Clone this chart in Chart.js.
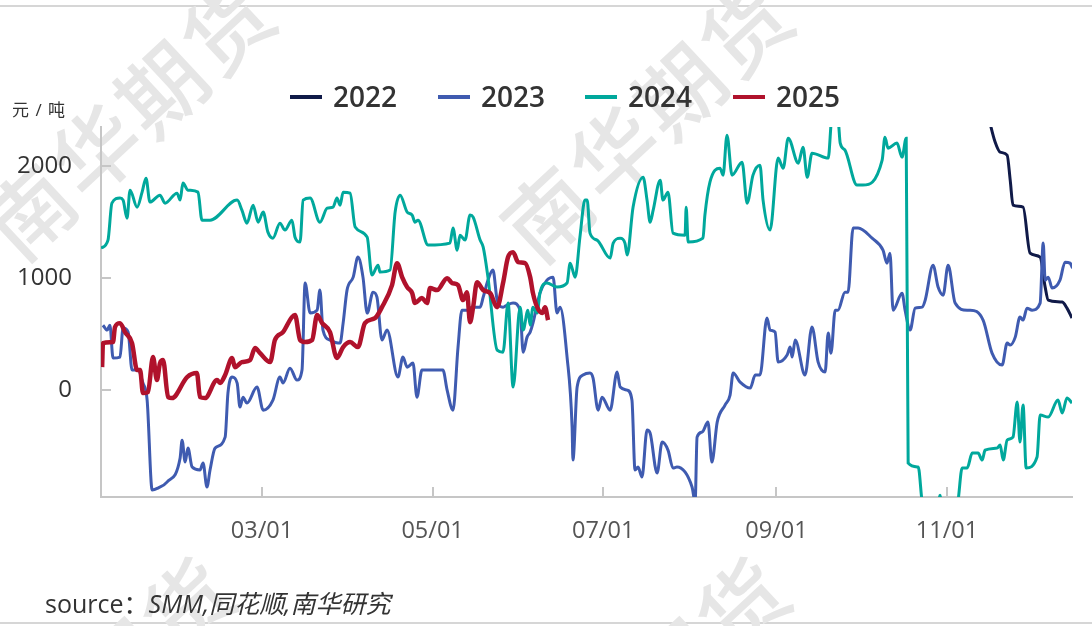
<!DOCTYPE html>
<html>
<head>
<meta charset="utf-8">
<script src="https://cdn.jsdelivr.net/npm/chart.js@4.4.1/dist/chart.umd.min.js"></script>
<style>
  html, body { margin: 0; padding: 0; background: #fff; }
  body { width: 1092px; height: 626px; position: relative; overflow: hidden;
         font-family: 'Open Sans', 'Noto Sans CJK SC', sans-serif; }
  #frameTop { position: absolute; left: 0; top: 5px; width: 1092px; height: 2px; background: #d6d6d6; }
  #frameBottom { position: absolute; left: 0; top: 622px; width: 1092px; height: 2px; background: #d6d6d6; }
  #box { position: absolute; left: 0; top: 0; width: 1092px; height: 626px; }
  #legend { position: absolute; top: 78px; left: 0; }
  .item { position: absolute; top: 0; white-space: nowrap; height: 36px; }
  .item i { position: absolute; left: 0; top: 17px; width: 32px; height: 4px; }
  .item span { position: absolute; left: 43px; top: 0; font-size: 28px; font-weight: 600; color: #333; line-height: 36px; }
  #unit { position: absolute; left: 12px; top: 96px; font-size: 17px; color: #333; letter-spacing: 1px; }
  #source { position: absolute; left: 45px; top: 584px; font-size: 25px; color: #333; }
  #source em { font-style: italic; }
</style>
</head>
<body>
<div id="frameTop"></div>
<div id="frameBottom"></div>
<div id="box"><canvas id="chart"></canvas></div>
<div id="legend"></div>
<div id="unit">元 / 吨</div>
<div id="source">source：<em>SMM,同花顺,南华研究</em></div>
<script>
// x = day of year (03/01 = 60), y = 元/吨
const seriesNames = ['2022', '2023', '2024', '2025'];
const seriesColors = ['#101a48', '#3f5bb0', '#00a89c', '#b0122c'];
const xTickDays = [60, 121, 182, 244, 305];
const xTickLabels = ['03/01', '05/01', '07/01', '09/01', '11/01'];
const yTicks = [0, 1000, 2000];

const s2022 = [[320,2420],[322.2,2215],[324,2125],[326.5,2099],[327.6,1875],[328.6,1652],[332.2,1634],[334.7,1223],[338.3,1188],[340.1,920],[341.2,804],[346.2,786],[347.9,732],[349.7,643]];

const s2023 = [[3.1,580],[4.6,536],[5.6,580],[6.7,286],[9.2,295],[10.3,554],[12.1,518],[13.5,179],[15.6,179],[17.4,63],
  [18.9,-89],[20.7,-893],[22.8,-875],[26.0,-822],[30.7,-607],[31.4,-447],[32.5,-643],[33.5,-518],[35.0,-688],[37.8,-714],
  [38.9,-652],[40.3,-866],[41.4,-714],[43.2,-518],[46.8,-420],[47.8,-27],[49.3,116],[51.1,63],[52.1,-152],[53.2,-63],
  [54.6,-116],[58.2,27],[60.4,-179],[63.9,-89],[66.4,116],[67.5,63],[70.0,196],[72.5,89],[74.3,179],[75.4,956],
  [77.2,688],[79.7,714],[80.7,893],[81.8,536],[84.3,447],[87.9,420],[89.0,598],[90.4,893],[92.6,1009],[94.3,1188],
  [96.1,1009],[97.6,688],[99.7,875],[101.1,830],[102.9,447],[104.7,536],[108.6,116],[110.4,295],[111.9,205],[114.0,241],
  [115.4,-63],[117.2,179],[124.7,179],[126.2,0],[128.3,-179],[130.1,384],[131.5,714],[133.3,714],[135.1,741],[138.0,741],
  [139.1,830],[140.8,982],[142.6,1072],[144.1,804],[146.2,741],[147.6,759],[149.8,777],[152.3,714],[153.4,339],[154.8,473],
  [155.9,518],[156.9,598],[159.4,866],[161.9,982],[164.1,1009],[165.5,688],[166.6,741],[169.1,295],[170.9,-330],[171.2,-625],
  [172.7,27],[174.8,134],[177.3,152],[178.4,107],[180.2,-179],[181.6,-63],[184.5,-179],[187.0,161],[188.1,27],[190.6,0],
  [192.3,-89],[193.4,-714],[194.5,-688],[195.9,-777],[197.7,-357],[198.8,-384],[201.3,-741],[203.1,-464],[205.2,-536],[207.0,-696],
  [208.4,-688],[213.8,-866],[214.9,-1000],[215.6,-420],[217.4,-375],[219.5,-286],[220.9,-643],[222.8,-286],[225.6,-134],[227.4,-45],
  [228.5,152],[231.0,71],[234.6,18],[236.4,134],[238.1,134],[240.6,643],[241.7,536],[243.5,518],[244.6,250],[247.8,313],
  [248.9,384],[249.6,295],[250.7,447],[254.2,134],[256.7,563],[258.9,250],[261.4,161],[262.5,509],[263.5,330],[265.0,714],
  [266.0,714],[268.5,875],[269.6,875],[271.4,1447],[273.2,1447],[278.2,1357],[282.1,1250],[283.5,1134],[284.6,1223],[285.7,714],
  [288.9,866],[290.0,714],[291.8,536],[293.6,732],[296.1,741],[297.2,804],[300.0,1116],[301.8,920],[303.6,848],[305.4,1116],
  [307.9,777],[312.2,714],[313.3,714],[317.9,625],[321.1,330],[324.7,223],[326.5,420],[327.6,402],[329.4,473],[331.1,652],
  [332.2,625],[333.6,732],[335.4,714],[338.3,777],[339.4,1313],[340.1,982],[341.2,1009],[342.6,911],[345.4,982],[347.2,1143],
  [349.0,1134],[349.9,1089]];

const s2024 = [[2.4,1268],[4.9,1340],[6.3,1670],[9.2,1715],[10.3,1697],[11.7,1536],[12.8,1786],[15.3,1634],[17.1,1768],[18.5,1893],
  [19.9,1679],[23.5,1741],[25.3,1670],[29.6,1759],[30.7,1697],[31.7,1849],[33.5,1786],[37.1,1768],[38.5,1518],[41.4,1518],
  [51.1,1697],[52.8,1607],[54.6,1491],[56.8,1652],[58.6,1500],[60.4,1590],[62.1,1411],[63.9,1357],[66.4,1491],[68.2,1429],
  [70.7,1518],[71.8,1366],[73.6,1322],[74.7,1697],[77.2,1715],[80.7,1500],[83.3,1625],[85.4,1634],[86.8,1715],[87.9,1652],
  [89.0,1768],[91.5,1759],[93.3,1456],[97.6,1366],[99.3,1027],[101.5,1116],[102.2,1054],[105.8,1072],[107.6,1590],[109.4,1741],
  [111.9,1590],[113.7,1563],[114.7,1500],[115.8,1518],[119.4,1295],[127.2,1313],[128.3,1447],[129.8,1250],[130.8,1384],[132.6,1340],
  [134.4,1563],[135.5,1545],[138.0,1340],[139.1,1277],[140.8,1009],[144.1,357],[146.2,339],[148.0,777],[149.8,27],[152.3,741],
  [153.4,536],[155.1,714],[155.9,580],[156.9,741],[158.4,688],[159.4,866],[161.9,956],[165.5,920],[169.1,956],[170.2,1134],
  [172.0,1009],[173.7,1366],[175.5,1697],[176.3,1697],[177.3,1402],[179.8,1340],[184.5,1179],[185.6,1313],[188.1,1357],[189.8,1313],
  [190.6,1206],[192.7,1634],[196.3,1902],[197.7,1697],[198.8,1500],[199.9,1607],[202.4,1875],[203.4,1697],[205.2,1768],[207.0,1402],
  [211.3,1384],[211.7,1634],[212.4,1322],[217.7,1357],[218.4,1563],[220.2,1857],[223.8,1982],[224.9,1920],[226.3,2277],[228.1,1920],
  [231.7,2036],[233.5,1670],[235.6,1920],[238.1,2009],[239.2,1697],[241.7,1429],[244.6,2072],[246.4,1982],[248.2,2250],[251.8,2027],
  [253.5,2170],[255.0,1902],[256.7,2116],[262.5,2072],[263.9,2450],[266.0,2420],[266.8,2206],[268.5,2143],[272.8,1831],[274.9,1831],
  [281.8,2054],[282.8,2259],[283.9,2161],[287.1,2206],[288.9,2081],[290.4,2250],[291.1,-652],[294.7,-688],[296.1,-1000],[298,-1150],
  [301.5,-1100],[302.5,-940],[303.5,-1150],[307.9,-1150],[309.0,-980],[310.4,-696],[312.2,-696],[314.0,-563],[316.1,-563],[317.6,-625],
  [318.6,-536],[322.9,-518],[324.0,-491],[325.1,-625],[326.5,-447],[328.6,-420],[330.1,-107],[331.1,-464],[332.2,-134],[333.3,-696],
  [337.2,-598],[338.3,-223],[341.2,-241],[344.7,-89],[346.2,-205],[347.9,-71],[349.7,-116]];

const s2025 = [[2.8,205],[3.1,420],[6.7,429],[7.4,563],[9.2,598],[11.0,518],[13.5,420],[15.3,179],[16.4,179],[17.4,-27],
  [19.2,-18],[21.0,295],[22.4,89],[23.5,241],[24.6,268],[26.4,-63],[27.8,-71],[33.2,116],[36.7,152],[37.8,-63],
  [39.6,-71],[43.9,89],[45.0,63],[46.8,134],[49.3,286],[50.3,205],[52.8,250],[55.7,268],[57.5,375],[59.3,330],
  [62.9,250],[64.6,447],[67.5,518],[70.7,652],[71.8,670],[73.6,447],[75.4,429],[77.9,447],[79.7,670],[81.5,598],
  [84.3,518],[86.8,286],[89.0,384],[91.5,429],[94.3,384],[96.8,598],[100.4,643],[102.9,741],[106.5,938],[108.3,1134],
  [110.1,1009],[111.9,920],[113.7,866],[114.7,777],[117.2,822],[119.0,777],[120.1,911],[122.6,893],[126.2,1000],[128.0,956],
  [130.1,938],[131.9,804],[133.3,875],[134.4,607],[135.5,741],[136.9,964],[139.1,893],[141.6,866],[144.1,741],[146.2,956],
  [148.0,1188],[149.8,1232],[151.6,1143],[154.1,1134],[155.9,1009],[156.9,866],[158.4,741],[160.2,688],[161.2,741],[162.3,625]];

const seriesData = [s2022, s2023, s2024, s2025];
const lineWidths = [3, 3, 3, 4.5];
const axisColor = '#c6c6c6';

// legend in html
const legendEl = document.getElementById('legend');
seriesNames.forEach((name, i) => {
  const d = document.createElement('div');
  d.className = 'item';
  d.style.left = Math.round(290 + i * 147.7) + 'px';
  d.innerHTML = '<i style="background:' + seriesColors[i] + '"></i><span>' + name + '</span>';
  legendEl.appendChild(d);
});

// faint diagonal watermark behind everything
const watermark = {
  id: 'watermark',
  beforeDraw(chart) {
    const ctx = chart.ctx;
    const starts = [[30, 212], [548, 214], [-10, 790], [545, 790]];
    const chars = ['南', '华', '期', '货'];
    const ang = -43 * Math.PI / 180;
    const step = 90;
    ctx.save();
    ctx.fillStyle = '#e6e6e6';
    ctx.font = "500 86px 'Noto Sans CJK SC'";
    ctx.textAlign = 'center';
    ctx.textBaseline = 'middle';
    starts.forEach(([sx, sy]) => {
      chars.forEach((c, k) => {
        ctx.save();
        ctx.translate(sx + k * step * Math.cos(ang), sy + k * step * Math.sin(ang));
        ctx.rotate(ang);
        ctx.fillText(c, 0, 0);
        ctx.restore();
      });
    });
    ctx.restore();
  }
};

// small tick marks drawn inside the plot, like the original
const innerTicks = {
  id: 'innerTicks',
  beforeDatasetsDraw(chart) {
    const { ctx, chartArea, scales: { x, y } } = chart;
    ctx.save();
    ctx.strokeStyle = axisColor;
    ctx.lineWidth = 2;
    ctx.beginPath();
    xTickDays.forEach(d => {
      const px = Math.round(x.getPixelForValue(d));
      ctx.moveTo(px, chartArea.bottom);
      ctx.lineTo(px, chartArea.bottom - 10);
    });
    yTicks.forEach(v => {
      const py = Math.round(y.getPixelForValue(v));
      ctx.moveTo(chartArea.left, py);
      ctx.lineTo(chartArea.left + 10, py);
    });
    ctx.stroke();
    ctx.restore();
  }
};

new Chart(document.getElementById('chart'), {
  type: 'line',
  data: {
    datasets: seriesNames.map((name, i) => ({
      label: name,
      data: seriesData[i].map(p => ({ x: p[0], y: p[1] })),
      borderColor: seriesColors[i],
      backgroundColor: seriesColors[i],
      borderWidth: lineWidths[i],
      pointRadius: 0,
      tension: 0.3,
      cubicInterpolationMode: 'monotone',
      order: 3 - i
    }))
  },
  options: {
    responsive: true,
    maintainAspectRatio: false,
    animation: false,
    layout: { padding: { top: 127, right: 20, left: 0, bottom: 79 } },
    plugins: {
      legend: { display: false },
      tooltip: { enabled: false }
    },
    scales: {
      x: {
        type: 'linear',
        min: 2.4,
        max: 349.7,
        afterBuildTicks: (scale) => { scale.ticks = xTickDays.map(v => ({ value: v })); },
        afterFit: (scale) => { scale.height = 50; },
        grid: { display: false, drawTicks: false },
        border: { display: true, color: axisColor, width: 2 },
        ticks: {
          autoSkip: false,
          maxRotation: 0,
          padding: 20,
          color: '#555',
          font: { family: "'Open Sans', sans-serif", size: 23.5 },
          callback: (value, index) => xTickLabels[index]
        }
      },
      y: {
        min: -955,
        max: 2350,
        afterBuildTicks: (scale) => { scale.ticks = yTicks.map(v => ({ value: v })); },
        afterFit: (scale) => { scale.width = 101; },
        grid: { display: false, drawTicks: false },
        border: { display: true, color: axisColor, width: 2 },
        ticks: {
          padding: 29,
          color: '#333',
          font: { family: "'Open Sans', sans-serif", size: 24 },
          callback: (value) => String(value)
        }
      }
    }
  },
  plugins: [watermark, innerTicks]
});
</script>
</body>
</html>
